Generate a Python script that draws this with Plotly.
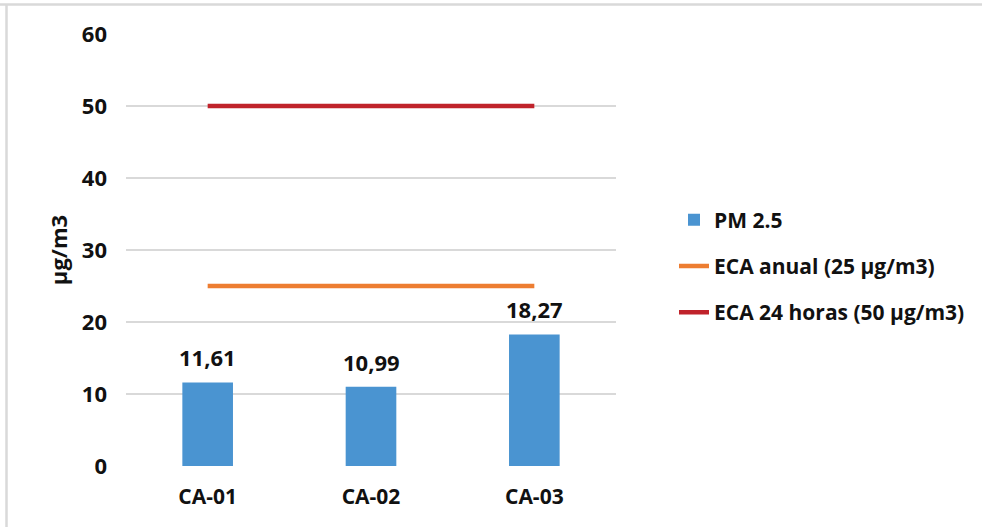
import plotly.graph_objects as go

# Monitoring stations and measured PM 2.5 concentrations (µg/m3)
stations = ["CA-01", "CA-02", "CA-03"]
pm25 = [11.61, 10.99, 18.27]

# Air quality standards (ECA) for PM 2.5
eca_anual = [25, 25, 25]
eca_24h = [50, 50, 50]

y_ticks = [0, 10, 20, 30, 40, 50, 60]

FONT = "Open Sans"
TXT = "#111111"

fig = go.Figure()

fig.add_trace(go.Bar(
    x=stations, y=pm25, name="PM 2.5",
    marker=dict(color="#4A94D1", line=dict(width=0)),
    width=0.31, legendgroup="a", hoverinfo="skip",
))
fig.add_trace(go.Scatter(
    x=stations, y=eca_anual, name="ECA anual (25 µg/m3)", mode="lines",
    line=dict(color="#ED7D31", width=4.5), legendgroup="b", hoverinfo="skip",
))
fig.add_trace(go.Scatter(
    x=stations, y=eca_24h, name="ECA 24 horas (50 µg/m3)", mode="lines",
    line=dict(color="#C0232B", width=4.5), legendgroup="c", hoverinfo="skip",
))

# Value labels above each bar, using decimal comma
for s, v in zip(stations, pm25):
    fig.add_annotation(
        x=s, y=v, text=f"{v:.2f}".replace(".", ","), showarrow=False,
        yanchor="middle", yshift=25,
        font=dict(family=FONT, size=22, color=TXT, weight="bold"),
    )

# Chart frame (top and left edges)
L, R, T, B = 126, 366, 34, 61
W, H = 982 - L - R, 527 - T - B
def px_x(p):
    return (p - L) / W
def px_y(p):
    return (527 - B - p) / H

fig.add_shape(type="line", xref="paper", yref="paper",
              x0=px_x(0), x1=px_x(982), y0=px_y(4.5), y1=px_y(4.5),
              line=dict(color="#D9D9D9", width=2.5))
fig.add_shape(type="line", xref="paper", yref="paper",
              x0=px_x(6.5), x1=px_x(6.5), y0=px_y(4.5), y1=px_y(527),
              line=dict(color="#D9D9D9", width=2.5))

fig.update_layout(
    width=982, height=527,
    margin=dict(l=L, r=R, t=T, b=B),
    paper_bgcolor="white", plot_bgcolor="white",
    font=dict(family=FONT, color=TXT),
    showlegend=True,
    legend=dict(
        x=px_x(674), xanchor="left", y=px_y(266), yanchor="middle",
        font=dict(family=FONT, size=21, color=TXT, weight="bold"),
        tracegroupgap=16, traceorder="grouped",
        bgcolor="rgba(0,0,0,0)",
    ),
    xaxis=dict(
        type="category", categoryorder="array", categoryarray=stations,
        showgrid=False, showline=False, zeroline=False, ticks="",
        tickfont=dict(family=FONT, size=21, color=TXT, weight="bold"),
        ticklabelstandoff=16,
    ),
    yaxis=dict(
        range=[0, 60], tickvals=y_ticks, ticktext=[str(t) for t in y_ticks],
        showgrid=True, gridcolor="#D9D9D9", gridwidth=2,
        zeroline=False, showline=False, ticks="",
        tickfont=dict(family=FONT, size=22, color=TXT, weight="bold"),
        ticklabelstandoff=18,
        title=dict(text="µg/m3", standoff=8,
                   font=dict(family=FONT, size=22, color=TXT, weight="bold")),
    ),
)

fig.write_html("out.html")
